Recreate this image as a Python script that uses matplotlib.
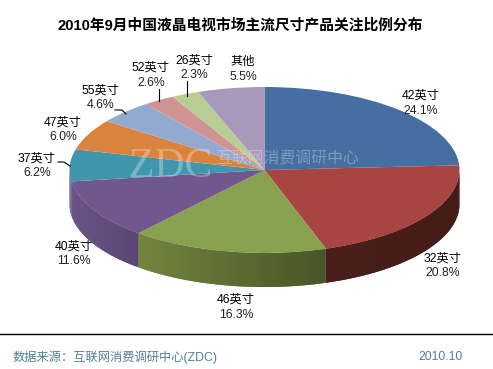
import numpy as np
from matplotlib import pyplot as plt
from matplotlib.colors import to_rgb

plt.rcParams['font.family'] = ['Liberation Sans', 'Noto Sans CJK SC']

#data
sizes = ["42英寸", "32英寸", "46英寸", "40英寸", "37英寸", "47英寸", "55英寸", "52英寸", "26英寸", "其他"]
shares = [24.1, 20.8, 16.3, 11.6, 6.2, 6.0, 4.6, 2.6, 2.3, 5.5]
colors = ["#456fa1", "#a84442", "#88a14e", "#70578d", "#4096ad", "#d9833e", "#93a9cf", "#cf9391", "#b8cc96", "#a899bb"]

W, H = 493, 369
fig = plt.figure(figsize=(W / 100, H / 100), dpi=100, facecolor="white")

#overlay in pixel coords for text and lines
over = fig.add_axes([0, 0, 1, 1], zorder=3)
over.set_xlim(0, W)
over.set_ylim(H, 0)
over.axis("off")

#pie squashed into an ellipse by the axes box
cx, cy, rx, ry, depth = 264.5, 170, 195, 83, 34
ax = fig.add_axes([(cx - rx) / W, (H - cy - ry) / H, 2 * rx / W, 2 * ry / H], zorder=2)

#side wall shades, (left end, right end) of each slice
wall_left = ["#2f4a6c", "#4a1f1b", "#72853f", "#6a5487", "#6f7f9e", "#9a5c2a", "#6a7a96", "#946968", "#84926b", "#786e85"]
wall_right = ["#2f4a6c", "#431b17", "#465526", "#5a4672", "#6a5487", "#9a5c2a", "#6a7a96", "#946968", "#84926b", "#786e85"]

d = depth / ry
cum = np.cumsum([0] + shares) * 3.6
for i in range(len(shares)):
    a0 = max(cum[i], 90)
    a1 = min(cum[i + 1], 270)
    if a1 <= a0:
        continue
    angles = np.radians(np.append(np.arange(a0, a1, 1.0), a1))
    c_l = np.array(to_rgb(wall_left[i]))
    c_r = np.array(to_rgb(wall_right[i]))
    x_lo, x_hi = np.sin(angles).min(), np.sin(angles).max()
    #strips overlap the next one so no seams show
    for j in range(len(angles) - 1):
        xs = np.sin(angles[j:j + 3])
        ys = np.cos(angles[j:j + 3])
        t = (xs.mean() - x_lo) / (x_hi - x_lo)
        col = c_l + (c_r - c_l) * t
        ax.fill(np.append(xs, xs[::-1]), np.append(ys, ys[::-1] - d),
                color=col, lw=0, clip_on=False, zorder=1)

wedges, _ = ax.pie(shares, colors=colors, startangle=90, counterclock=False, radius=1)
for w in wedges:
    w.set_zorder(2)
ax.set_aspect("auto")
ax.set_xlim(-1, 1)
ax.set_ylim(-1, 1)
ax.axis("off")

#title
over.text(240, 25, "2010年9月中国液晶电视市场主流尺寸产品关注比例分布", fontsize=10.6, fontweight="bold",
          ha="center", va="center", color="black")

#labels
label_x = [421, 443, 236, 74, 37, 63, 101, 151, 194, 243]
label_y = [96, 259, 300, 247, 159, 123, 91, 68, 61, 62]
for i in range(len(sizes)):
    over.text(label_x[i], label_y[i], sizes[i], fontsize=8.8, ha="center", va="center", color="black")
    over.text(label_x[i], label_y[i] + 14.5, "%.1f%%" % shares[i], fontsize=8.8, ha="center", va="center", color="#222222")

#leader lines
over.plot([186.5, 186.5], [81, 96], color="black", lw=0.8)
over.plot([159, 159], [89, 101], color="black", lw=0.8)
over.plot([115, 122, 126], [110, 110, 114], color="black", lw=0.8)
over.plot([58, 64, 70], [162, 162, 166], color="black", lw=0.8)

#watermark
over.text(129, 167, "ZDC", family="Liberation Serif", fontsize=30, color="white", alpha=0.3, ha="left", va="center")
over.text(216, 159, "互联网消费调研中心", fontsize=11.4, color="white", alpha=0.3, ha="left", va="center")

#footer
over.plot([0, W], [334, 334], color="black", lw=1)
over.text(13, 357, "数据来源：互联网消费调研中心(ZDC)", fontsize=8.8, color="#4f8091", ha="left", va="center")
over.text(463, 357, "2010.10", fontsize=8.8, color="#4f8091", ha="right", va="center")

fig.savefig("out.png", dpi=100)
